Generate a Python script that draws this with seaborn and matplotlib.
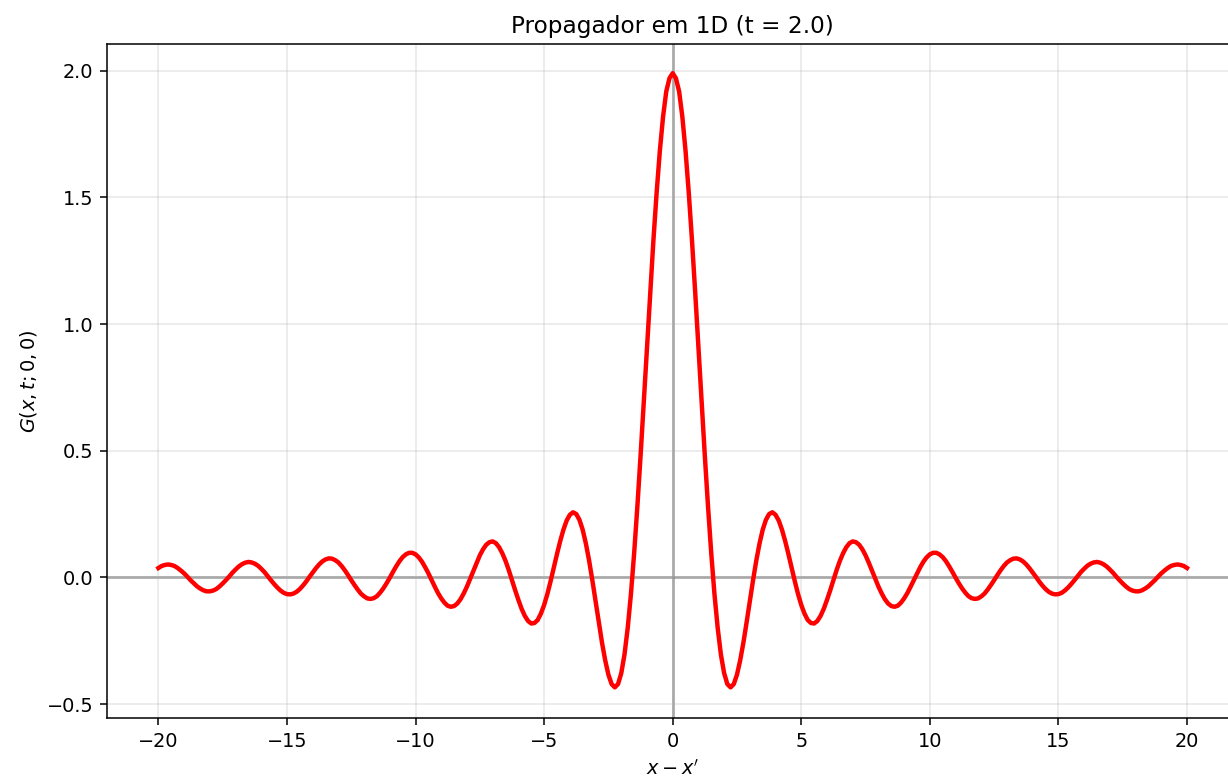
import numpy as np
import pandas as pd
import matplotlib
matplotlib.use("Agg")
import matplotlib.pyplot as plt
import seaborn as sns

# values for x >= 0, step 0.125; the curve is symmetric about x = 0
x_right = np.arange(0, 20.0001, 0.125)
g_right = [
    1.990, 1.970, 1.918, 1.818, 1.683, 1.518, 1.330, 1.125, 0.909, 0.692,
    0.479, 0.278, 0.094, -0.067, -0.200, -0.305, -0.378, -0.421, -0.434, -0.421,
    -0.384, -0.327, -0.257, -0.177, -0.093, -0.011, 0.066, 0.133, 0.188, 0.227,
    0.250, 0.257, 0.247, 0.224, 0.188, 0.143, 0.092, 0.038, -0.016, -0.066,
    -0.109, -0.143, -0.168, -0.180, -0.182, -0.172, -0.152, -0.124, -0.089, -0.051,
    -0.011, 0.029, 0.065, 0.095, 0.119, 0.135, 0.142, 0.139, 0.129, 0.111,
    0.087, 0.058, 0.027, -0.005, -0.036, -0.063, -0.086, -0.103, -0.113, -0.116,
    -0.112, -0.100, -0.083, -0.062, -0.037, -0.011, 0.016, 0.040, 0.062, 0.079,
    0.091, 0.097, 0.097, 0.091, 0.080, 0.064, 0.044, 0.022, -0.001, -0.023,
    -0.043, -0.060, -0.074, -0.082, -0.085, -0.083, -0.075, -0.064, -0.048, -0.030,
    -0.011, 0.009, 0.028, 0.045, 0.059, 0.068, 0.074, 0.075, 0.071, 0.063,
    0.051, 0.036, 0.019, 0.002, -0.016, -0.032, -0.046, -0.057, -0.064, -0.067,
    -0.066, -0.061, -0.052, -0.040, -0.026, -0.011, 0.005, 0.021, 0.034, 0.046,
    0.054, 0.059, 0.061, 0.058, 0.052, 0.043, 0.031, 0.018, 0.003, -0.011,
    -0.024, -0.036, -0.046, -0.052, -0.055, -0.055, -0.051, -0.044, -0.035, -0.023,
    -0.011, 0.003, 0.016, 0.027, 0.037, 0.045, 0.049, 0.051, 0.049, 0.045,
    0.037,
]

x_vals = np.concatenate([-x_right[::-1], x_right[1:]])
g_vals = np.concatenate([np.array(g_right)[::-1], np.array(g_right)[1:]])
df = pd.DataFrame({"x": x_vals, "G": g_vals})

plt.rcParams["font.family"] = ["DejaVu Sans"]

fig = plt.figure(figsize=(12.28, 7.78), dpi=100)
ax = fig.add_axes([0.0871, 0.0771, 0.9214, 0.8663])

sns.lineplot(data=df, x="x", y="G", color="red", linewidth=3.2, ax=ax)
ax.axhline(0, color="gray", alpha=0.7, linewidth=1.9, zorder=1)
ax.axvline(0, color="gray", alpha=0.7, linewidth=1.9, zorder=1)
ax.grid(True, alpha=0.3, linewidth=1.1)

ax.set_xlim(-22, 22)
ax.set_ylim(-0.555, 2.105)
ax.set_xticks([-20, -15, -10, -5, 0, 5, 10, 15, 20])
ax.set_yticks([-0.5, 0.0, 0.5, 1.0, 1.5, 2.0])
ax.tick_params(labelsize=13.9, length=4.9, width=1.1, pad=4.9)
for s in ax.spines.values():
    s.set_linewidth(1.1)

ax.set_xlabel(r"$x - x'$", fontsize=13.9, labelpad=5.5)
ax.set_ylabel(r"$G(x, t; 0, 0)$", fontsize=13.9, labelpad=5.5)
ax.set_title("Propagador em 1D (t = 2.0)", fontsize=16.7, pad=8.3)

fig.savefig("out.png", dpi=100)
